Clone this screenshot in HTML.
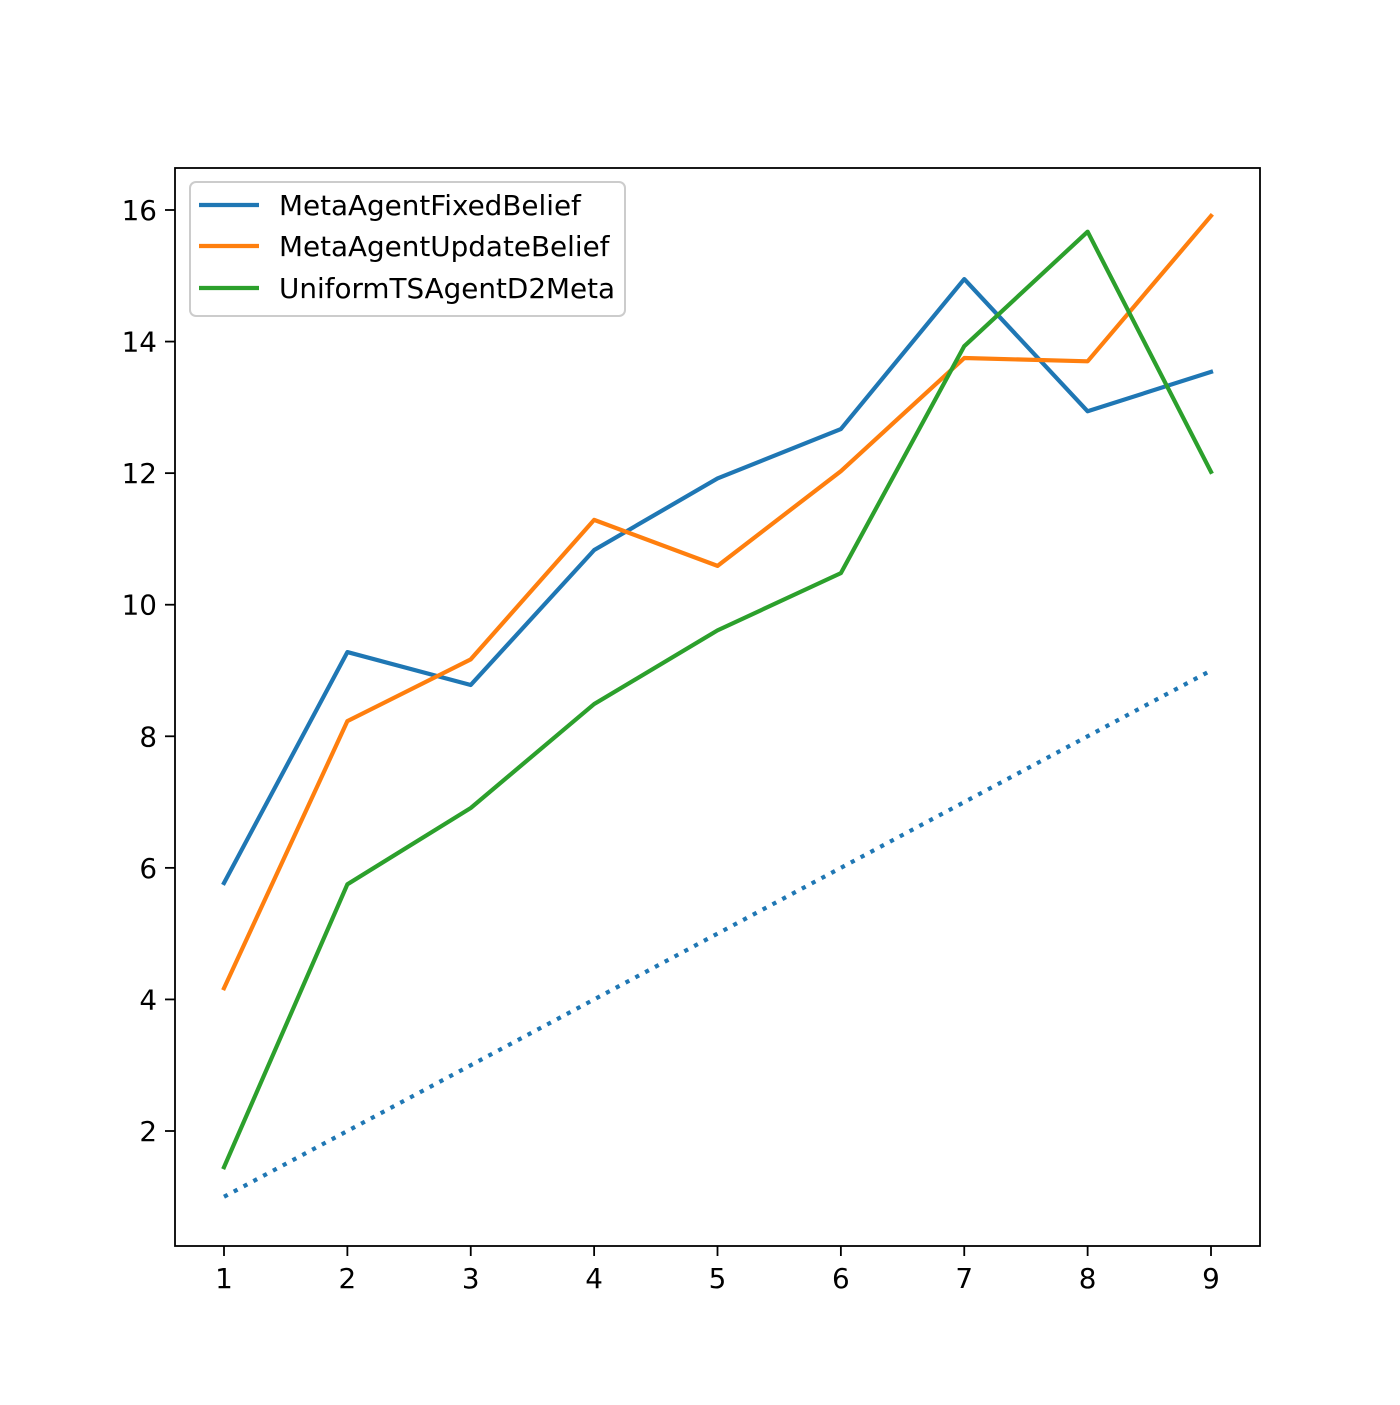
<!DOCTYPE html>
<html><head><meta charset="utf-8"><style>
html,body{margin:0;padding:0;background:#fff;}
svg text{font-family:"DejaVu Sans","Liberation Sans",sans-serif;fill:#000;}
</style></head><body>
<svg id="chart" width="1400" height="1400" viewBox="0 0 1400 1400" xmlns="http://www.w3.org/2000/svg">
<rect width="1400" height="1400" fill="#fff"/>
<g id="ticks"></g>
<g id="lines"></g>
<rect x="175" y="168" width="1085" height="1078" fill="none" stroke="#000" stroke-width="1.8"/>
<g>
<rect x="190" y="182" width="435" height="134" rx="6" fill="#fff" fill-opacity="0.8" stroke="#ccc" stroke-width="2"/>
<line x1="199" y1="205" x2="259" y2="205" stroke="#1f77b4" stroke-width="4.2"/>
<text x="279" y="215" font-size="27.8">MetaAgentFixedBelief</text>
<line x1="199" y1="246" x2="259" y2="246" stroke="#ff7f0e" stroke-width="4.2"/>
<text x="279" y="256" font-size="27.8">MetaAgentUpdateBelief</text>
<line x1="199" y1="288" x2="259" y2="288" stroke="#2ca02c" stroke-width="4.2"/>
<text x="279" y="298" font-size="27.8">UniformTSAgentD2Meta</text>
</g>
</svg>
<script>
const categories=[1,2,3,4,5,6,7,8,9];
const fixedBelief=[5.77,9.28,8.78,10.83,11.92,12.67,14.95,12.94,13.54];
const updateBelief=[4.17,8.23,9.17,11.29,10.59,12.03,13.75,13.70,15.91];
const uniformTS=[1.45,5.75,6.91,8.49,9.61,10.48,13.93,15.67,12.02];
const baseline=[1,2,3,4,5,6,7,8,9];
const yTicks=[2,4,6,8,10,12,14,16];
const NS="http://www.w3.org/2000/svg";
function xs(v){return 224+(v-1)*123.375;}
function ys(v){return 1131-(v-2)*65.7857;}
const tg=document.getElementById('ticks');
function mk(tag,attrs,parent){const e=document.createElementNS(NS,tag);for(const k in attrs)e.setAttribute(k,attrs[k]);parent.appendChild(e);return e;}
categories.forEach(c=>{
  const l=mk('line',{x1:xs(c),x2:xs(c),y1:1246,y2:1256,stroke:'#000','stroke-width':1.8},tg);
  
  
  const t=mk('text',{x:xs(c),y:1288,'font-size':27.8,'text-anchor':'middle'},tg);
  t.textContent=c;
  
  
});
yTicks.forEach(v=>{
  const l=mk('line',{x1:165,x2:175,y1:ys(v),y2:ys(v),stroke:'#000','stroke-width':1.8},tg);
  
  
  const t=mk('text',{x:157,y:ys(v)+10,'font-size':27.8,'text-anchor':'end'},tg);
  t.textContent=v;
  
  
});
const lg=document.getElementById('lines');
function series(data,color,name,dash){
  const p=mk('polyline',{points:data.map((v,i)=>xs(categories[i])+','+ys(v)).join(' '),fill:'none',stroke:color,'stroke-width':4.2,'stroke-linejoin':'round'},lg);
  if(dash){p.setAttribute('stroke-dasharray',dash);p.setAttribute('stroke-linecap','butt');}else p.setAttribute('stroke-linecap','square');
  
  
}
series(baseline,'#1f77b4','baseline-dotted-line','4.2 6.9');
series(fixedBelief,'#1f77b4','fixed-belief-line');
series(updateBelief,'#ff7f0e','update-belief-line');
series(uniformTS,'#2ca02c','uniform-ts-line');
</script>
</body></html>
